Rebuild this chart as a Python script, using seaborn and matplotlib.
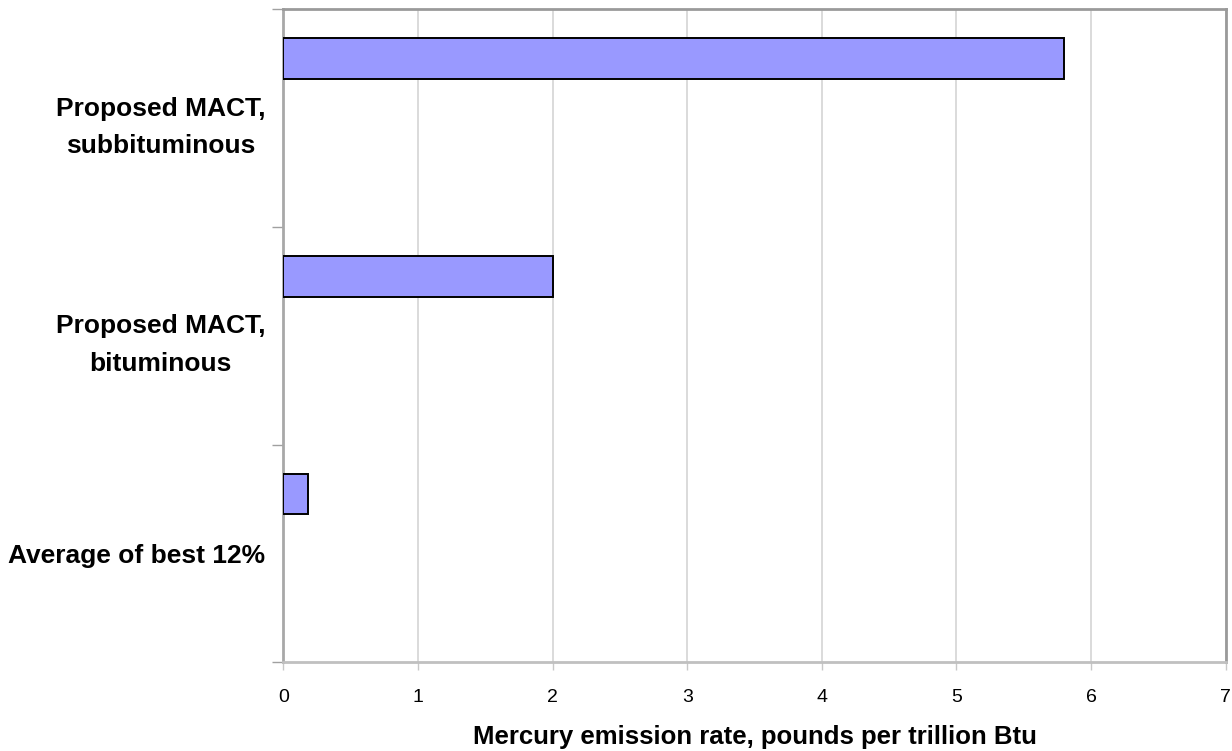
import matplotlib
matplotlib.use("Agg")
import matplotlib.pyplot as plt
import seaborn as sns
import pandas as pd

# Chart data
categories = ["Proposed MACT,\nsubbituminous", "Proposed MACT,\nbituminous", "Average of best 12%"]
emission_rates = [5.8, 2.0, 0.18]
x_ticks = [0, 1, 2, 3, 4, 5, 6, 7]
x_label = "Mercury emission rate, pounds per trillion Btu"

sns.set_theme(style="white")
plt.rcParams["font.family"] = ["Liberation Sans", "DejaVu Sans"]
plt.rcParams["text.color"] = "black"
plt.rcParams["axes.labelcolor"] = "black"
plt.rcParams["xtick.labelcolor"] = "black"
plt.rcParams["ytick.labelcolor"] = "black"

W, H = 1232, 751
fig = plt.figure(figsize=(W / 100, H / 100), dpi=100)
left, right, top, bottom = 283.3, 1225.7, 9.3, 662.3
ax = fig.add_axes([left / W, (H - bottom) / H, (right - left) / W, (bottom - top) / H])

df = pd.DataFrame({"category": categories, "rate": emission_rates})
sns.barplot(data=df, x="rate", y="category", orient="h", color="#9999ff",
            saturation=1, width=0.186, edgecolor="black", linewidth=1.4,
            ax=ax, zorder=3)

# each category band spans one unit; bars sit near the top of their band
offset = 0.227
n = len(categories)
ax.set_ylim(n - offset, -offset)
ax.set_xlim(x_ticks[0], x_ticks[-1])

bounds = [i - offset for i in range(n + 1)]
ax.set_yticks(bounds)
ax.set_yticklabels([""] * len(bounds))
ax.set_yticks([i + 0.5 - offset for i in range(n)], minor=True)
ax.set_yticklabels(categories, minor=True, fontsize=19, fontweight="bold",
                   multialignment="center", linespacing=1.7, color="black")
ax.tick_params(axis="y", which="major", left=True, length=8, width=1, color="#a0a0a0")
ax.tick_params(axis="y", which="minor", left=False, length=0, pad=13)

ax.set_xticks(x_ticks)
ax.set_xticklabels([str(t) for t in x_ticks], fontsize=14, color="black")
ax.tick_params(axis="x", bottom=True, length=6, width=1, color="#c8c8c8", pad=13)

ax.xaxis.grid(True, color="#d4d4d4", linewidth=1.2, zorder=0)
ax.yaxis.grid(False)
ax.set_axisbelow(True)

ax.set_xlabel(x_label, fontsize=18.5, fontweight="bold", labelpad=14, color="black")
ax.set_ylabel("")

for side, col in [("left", "#a8a8a8"), ("top", "#9a9a9a"), ("right", "#9a9a9a"), ("bottom", "#c0c0c0")]:
    ax.spines[side].set_visible(True)
    ax.spines[side].set_color(col)
    ax.spines[side].set_linewidth(2)

fig.savefig("out.png", dpi=100, facecolor="white")
